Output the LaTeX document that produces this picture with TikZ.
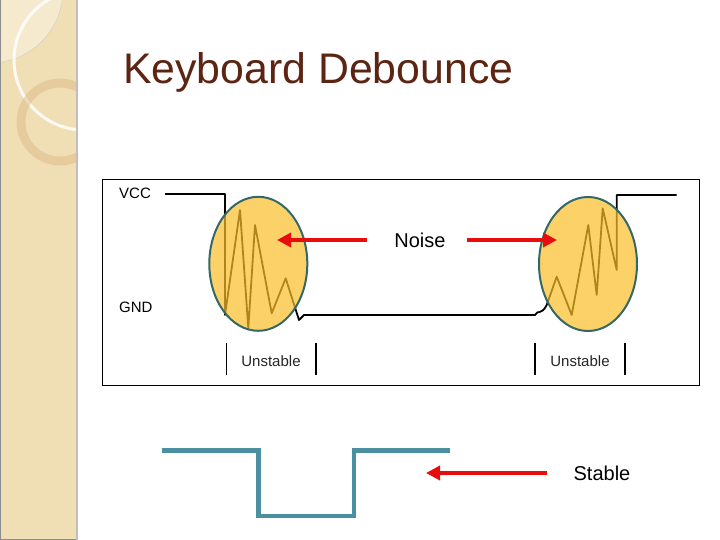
\documentclass[tikz,border=0pt]{standalone}
\usepackage{fontspec}
\setmainfont{Liberation Sans}
\usetikzlibrary{arrows.meta,shapes.geometric}
\definecolor{sidebar}{RGB}{240,223,181}
\definecolor{titlebrown}{RGB}{92,36,18}
\definecolor{noisefill}{RGB}{251,192,41}
\definecolor{noiseedge}{RGB}{52,104,104}
\definecolor{stableteal}{RGB}{74,144,160}
\definecolor{arrowred}{RGB}{232,12,12}

\begin{document}
\begin{tikzpicture}[x=1pt,y=-1pt,
  noisearrow/.style={-{Triangle[length=14pt,width=14pt]},line width=4pt,arrowred},
  blob/.style={ellipse,draw=noiseedge,line width=2pt,fill=noisefill,fill opacity=0.7,
    minimum width=98pt,minimum height=134pt,inner sep=0pt},
  lbl/.style={font=\fontsize{15}{15}\selectfont,inner sep=0pt},
  big/.style={font=\fontsize{20}{20}\selectfont,inner sep=0pt}]
  \useasboundingbox (0,0) rectangle (720,540);
  \fill[white] (0,0) rectangle (720,540);

  % Sidebar (beige strip with rings)
  \begin{scope}
    \clip (0,0) rectangle (78,540);
    \fill[sidebar] (0,0) rectangle (78,540);
    \fill[white,opacity=0.35] (-10,-10) circle (73);
    \draw[black!20,thin] (-10,-10) circle (73);
    \draw[white,line width=3pt,opacity=0.85] (84,60) circle (70);
    \draw[brown!45!sidebar,line width=9pt,opacity=0.45] (60,122) circle (39);
  \end{scope}
  \draw[black!45] (0.5,0) -- (0.5,539.5) -- (78,539.5);
  \draw[black!25,line width=1.5pt] (77,0) -- (77,540);

  % Title
  \node[anchor=base west,text=titlebrown,font=\fontsize{42.8}{44}\selectfont,inner sep=0pt]
    (title) at (123,83.3) {Keyboard Debounce};

  % Frame of the scope trace
  \draw[line width=1pt] (102.3,180) rectangle (699.3,385);

  % Bouncing signal (black)
  \draw[line width=1.8pt,line join=round] (165,194) -- (225,194) -- (225,315)
    -- (240,210) -- (248.3,328.3) -- (255,225) -- (271.7,313.3) -- (285.7,278.3)
    -- (299,320) -- (304,315) -- (535,315) .. controls (538,309) and (541,316) .. (546.7,305)
    -- (556.7,276.7) -- (571.7,315) -- (588.3,225) -- (596.7,295) -- (602.7,208.3)
    -- (616.7,270) -- (616.7,195) -- (676.7,195);

  % Noise regions (yellow)
  \node[blob] (bounceA) at (258.3,263.8) {};
  \node[blob] (bounceB) at (588,264) {};

  \node[lbl,anchor=west] (vcc) at (119,193) {VCC};
  \node[lbl,anchor=west] (gnd) at (119,307) {GND};

  % Noise arrows (red)
  \node[big] (noise) at (420,240) {Noise};
  \coordinate (tailA) at (367,240);
  \coordinate (tipA) at (277,240);
  \coordinate (tailB) at (467,240);
  \coordinate (tipB) at (557,240);
  \draw[noisearrow] (tailA) -- (tipA);
  \draw[noisearrow] (tailB) -- (tipB);

  % Unstable intervals
  \draw[line width=1.5pt] (226.7,343) -- (226.7,375);
  \draw[line width=1.5pt] (316,343) -- (316,375);
  \node[lbl,text=black!85] (unstA) at (271,361) {Unstable};
  \draw[line width=1.5pt] (535,343) -- (535,375);
  \draw[line width=2pt] (625,343) -- (625,375);
  \node[lbl,text=black!85] (unstB) at (580,361) {Unstable};

  % Debounced signal (teal)
  \draw[stableteal,line width=4.5pt] (161.7,450.7) -- (258.3,450.7) -- (258.3,516)
    -- (354,516) -- (354,450.7) -- (450,450.7);
  \node[big] (stable) at (602,473) {Stable};
  \coordinate (tailC) at (547,473);
  \coordinate (tipC) at (426,473);
  \draw[noisearrow] (tailC) -- (tipC);
\end{tikzpicture}
\end{document}
